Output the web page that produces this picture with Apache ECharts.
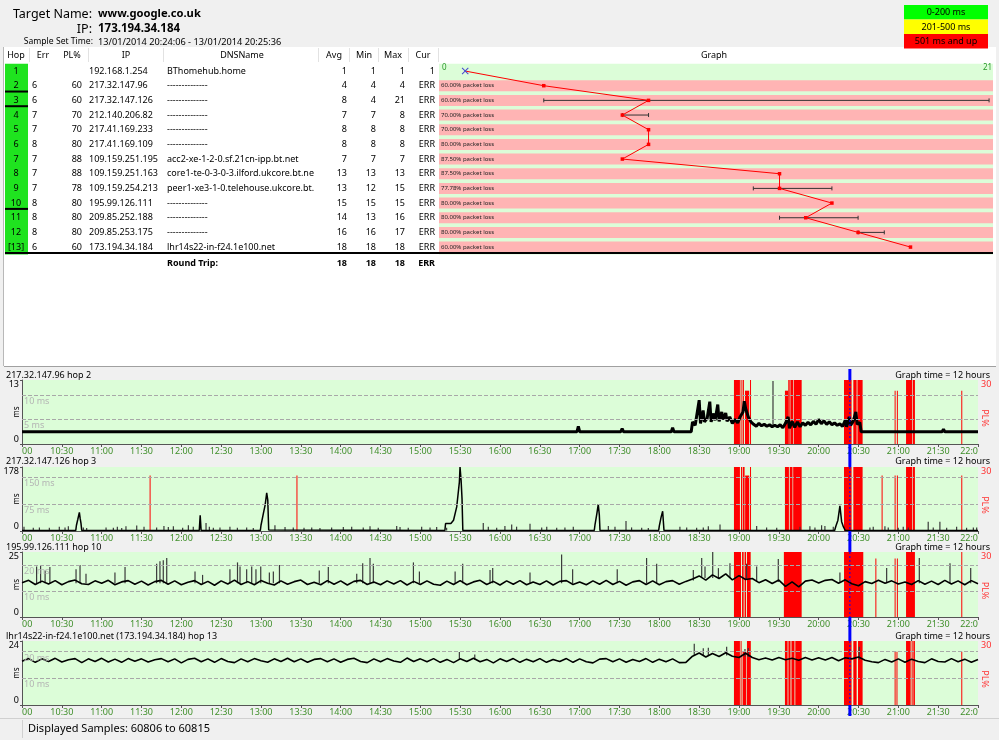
<!DOCTYPE html>
<html><head><meta charset="utf-8">
<script src="https://cdn.jsdelivr.net/npm/echarts@6/dist/echarts.min.js"></script>
<style>html,body{margin:0;padding:0;background:#f0f0f0;}#c{width:999px;height:740px;}</style>
</head><body><div id="c"></div>
<script>
// ================= DATA =================
const targetName = 'www.google.co.uk';
const targetIP = '173.194.34.184';
const sampleSetTime = '13/01/2014 20:24:06 - 13/01/2014 20:25:36';
const displayedSamples = 'Displayed Samples: 60806 to 60815';
const tableHeaders = ['Hop','Err','PL%','IP','DNSName','Avg','Min','Max','Cur','Graph'];
const hopLabels = ['1','2','3','4','5','6','7','8','9','10','11','12','[13]'];
const hopErr = ['','6','6','7','7','8','7','7','7','8','8','8','6'];
const hopPktLoss = [0,60,60,70,70,80,87.5,87.5,77.78,80,80,80,60];
const hopIP = ['192.168.1.254','217.32.147.96','217.32.147.126','212.140.206.82','217.41.169.233','217.41.169.109','109.159.251.195','109.159.251.163','109.159.254.213','195.99.126.111','209.85.252.188','209.85.253.175','173.194.34.184'];
const hopDNS = ['BThomehub.home','--------------','--------------','--------------','--------------','--------------','acc2-xe-1-2-0.sf.21cn-ipp.bt.net','core1-te-0-3-0-3.ilford.ukcore.bt.net','peer1-xe3-1-0.telehouse.ukcore.bt.net','--------------','--------------','--------------','lhr14s22-in-f24.1e100.net'];
const hopAvg = [1,4,8,7,8,8,7,13,13,15,14,16,18];
const hopMin = [1,4,4,7,8,8,7,13,12,15,13,16,18];
const hopMax = [1,4,21,8,8,8,7,13,15,15,16,17,18];
const hopCur = ['1','ERR','ERR','ERR','ERR','ERR','ERR','ERR','ERR','ERR','ERR','ERR','ERR'];
const graphedHops = [2,3,10,13];
const roundTripLabel = 'Round Trip:';
const roundTripVals = ['18','18','18','ERR'];
const graphMax = 21;
const legendLabels = ['0-200 ms','201-500 ms','501 ms and up'];

const timeTickLabels = ['00','10:30','11:00','11:30','12:00','12:30','13:00','13:30','14:00','14:30','15:00','15:30','16:00','16:30','17:00','17:30','18:00','18:30','19:00','19:30','20:00','20:30','21:00','21:30','22:0'];
const chartTitles = ['217.32.147.96 hop 2','217.32.147.126 hop 3','195.99.126.111 hop 10','lhr14s22-in-f24.1e100.net (173.194.34.184) hop 13'];
const graphTimeText = 'Graph time = 12 hours';
const yMaxes = [13,178,25,24];
const refLines = [[10,5],[150,75],[20,10],[20,10]];
const plMax = 30;
const cursorMin = 623.5;   // minutes after 10:00
const sampleStepMin = 5;

// hop 2 latency [minute, ms]
const hop2Latency = [[0,2.5],[418,2.5],[419,3.6],[420,2.5],[451,2.5],[452,3.1],[453,2.5],[477,2.5],[478,2.1],[479,2.5],[489,2.5],[490,3.3],[491,2.5],[504,2.5],
[505,4.5],[507,3.8],[508,5.5],[510,8.9],[511,4.2],[513,6.8],[514,4.5],[516,5.2],[518,8.6],[519,4.5],[521,6.2],[522,4.8],[524,8.0],[525,4.6],[527,6.5],[528,5.0],[530,6.3],[531,4.6],[533,5.5],[535,4.2],[537,5.0],[539,4.3],[541,5.6],[543,6.5],[544,8.7],[545,7.2],[547,5.5],[549,4.5],[551,4.0],[553,3.6],[555,4.2],[557,3.7],[559,4.0],[561,3.6],[563,3.9],[565,3.5],[567,3.8],[569,3.5],[571,3.9],[573,3.3],[575,4.2],[577,5.5],[578,3.2],[580,4.6],[582,3.4],[584,4.5],[586,3.5],[588,4.3],[590,3.8],[592,4.4],[594,3.9],[596,4.6],[598,4.0],[600,5.0],[602,4.1],[604,4.7],[606,4.0],[608,4.5],[610,3.9],[612,4.3],[614,3.8],[616,4.1],[618,3.6],[620,4.8],[621,3.5],[623,5.5],[624,3.8],[626,4.6],[628,6.5],[629,4.0],[631,4.4],[632,2.5],[693,2.5],[694,3.0],[695,2.5],[720,2.5]];
const hop2Spikes = [[565.6,3.8,12.8]];
const hop2Loss = [[536.2,540.7,30],[541.2,541.7,30],[542.7,543.7,30],[544.5,547.7,25],[548.3,548.9,30],[574.6,577.1,25],[577.1,578.2,30],[578.7,580.7,30],[581.2,587.2,30],[619.1,624.8,30],[626.1,628.6,30],[629.2,633.1,30],[657.2,657.9,25],[658.9,659.6,25],[665.8,670.3,30],[670.8,672.5,30],[707.4,708.1,25]];

// hop 3 latency [minute, ms]
const hop3Latency = [[0,1.5],[40.5,1.5],[41,16],[42,32],[42.6,35],[43.2,52],[43.8,35],[44.4,22],[45,1.5],
[133.5,1.5],[134.2,44],[134.9,1.5],
[179.5,1.5],[180,16],[181.8,49],[183.1,72],[184.3,106],[185.1,86],[185.8,3],[186.2,1.5],
[318.5,1.5],[319,21],[323,21],[325,30],[327.4,67],[329.4,136],[329.9,178],[330.7,141],[331.4,90],[332,1.5],
[431,1.5],[431.5,16],[432.8,45],[434,74],[434.8,45],[435.3,1.5],
[479.5,1.5],[480,14],[481.3,38],[482.5,55],[483.5,1.5],
[612,1.5],[613,14],[614.5,30],[616,70],[617.3,26],[618.6,12],[620,1.5],[720,1.5]];
const hop3Spikes = [[1.5,1.5,12],[8.5,1.5,9],[13.1,1.5,10],[20.6,1.5,9],[28.1,1.5,12],[32.4,1.5,10],[34.9,1.5,13],[46.2,1.5,10],[48.7,1.5,8],[63.3,1.5,10],[68.8,1.5,9],[71.8,1.5,12],[75.1,1.5,8],[78.3,1.5,13],[86.4,1.5,15],[91.9,1.5,12],[101.4,1.5,10],[106.9,1.5,14],[110.2,1.5,11],[114,1.5,13],[121,1.5,9],[125.3,1.5,16],[129,1.5,12],[138.6,1.5,22],[141.1,1.5,12],[144.1,1.5,9],[149.1,1.5,10],[156.6,1.5,12],[162.2,1.5,9],[169.2,1.5,10],[174.2,1.5,8],[190.5,1.5,16],[198.1,1.5,11],[204.3,1.5,10],[212.4,1.5,9],[218.2,1.5,10],[224.4,1.5,8],[233.2,1.5,10],[242,1.5,11],[248.3,1.5,12],[257,1.5,10],[262.1,1.5,13],[268.3,1.5,9],[282.2,1.5,14],[284.7,1.5,11],[290.9,1.5,9],[301,1.5,12],[307.3,1.5,10],[312.3,1.5,11],[319.8,1.5,9],[347.4,1.5,22],[351.2,1.5,12],[357.5,1.5,9],
[363.7,1.5,14],[368.8,1.5,18],[372.5,1.5,12],[382.6,1.5,20],[391.4,1.5,10],[395.2,1.5,12],[402.7,1.5,9],[408.9,1.5,10],[415.2,1.5,12],[441.6,1.5,14],[446.6,1.5,12],[454.9,1.5,28],[459.1,1.5,10],[466.7,1.5,9],[471.7,1.5,8],[495.5,1.5,12],[500.6,1.5,10],[508.1,1.5,9],[513.1,1.5,10],[516.9,1.5,13],[525.7,1.5,18],[553.3,1.5,14],[560.8,1.5,10],[568.4,1.5,9],[585.9,1.5,12],[593.4,1.5,13],[597.2,1.5,10],[602.2,1.5,16],[604.7,1.5,14],[611,1.5,12],[638.6,1.5,10],[641.1,1.5,12],[649.9,1.5,13],[652.4,1.5,10],[659.9,1.5,9],[663.7,1.5,12],[667.5,1.5,10],[682.5,1.5,26],[686.3,1.5,10],[691.3,1.5,26],[696.4,1.5,9],[703.9,1.5,12],[711.4,1.5,9],[716.5,1.5,10],[719,1.5,10]];
const hop3Loss = [[96.1,96.8,26],[206.7,207.4,26],[536.2,540.7,30],[541.5,542.5,30],[543,544.2,30],[544.6,547.7,26],[548.3,548.9,30],[574.6,577.6,30],[578.2,580.3,30],[580.8,587.2,30],[619.1,624.8,30],[626.1,633.1,30],[647.4,648.1,26],[657.2,657.9,26],[658.9,659.6,26],[665.8,670.3,30],[670.8,672.5,30],[707.4,708.1,26]];

// hop 10 latency, one value every 5 minutes from 10:00
const hop10Latency = [13.2,14.1,12.5,13.8,12.7,14.0,12.4,13.6,14.2,12.8,12.5,13.9,13.0,14.1,12.4,13.5,14.0,12.6,13.8,12.3,13.6,
14.1,12.6,13.9,12.4,13.4,14.0,12.5,13.7,12.2,13.9,12.7,14.2,12.5,13.6,12.4,14.0,13.0,12.3,13.9,12.6,
13.6,14.2,12.5,13.4,12.4,14.0,12.6,13.9,12.3,13.7,14.1,12.5,13.5,12.4,13.9,12.7,14.0,12.3,13.7,12.5,
13.9,12.6,12.2,13.8,12.5,14.0,12.4,13.5,14.1,12.5,13.7,12.3,13.9,12.6,14.0,12.4,13.5,12.5,13.9,12.3,
13.7,14.0,12.5,13.5,12.4,13.9,12.6,14.1,12.5,13.7,12.2,13.5,14.0,12.5,13.9,12.4,13.6,14.0,12.6,13.7,
14.6,15.8,14.2,16.2,14.8,16.6,14.3,15.9,14.4,14.8,
13.2,14.3,12.9,14.2,11.8,13.5,11.6,13.8,14.2,13.1,
14.1,14.4,13.0,14.3,12.8,12.0,13.6,12.9,14.1,13.0,
13.9,12.7,13.5,12.5,14.0,12.6,13.8,12.5,14.1,12.7,13.9,12.4,14.0,12.8];
const hop10Spikes = [[11,13,19.4],[14,13,19.7],[17.4,13,17.9],[21,13,19.2],[40.7,13,18.4],[43.7,13,20],[48.2,13,16.6],[70,13,17.1],[77.6,13,19.2],[101.4,13,20.5],[103.9,13,21.4],[106.4,13,21.8],[109,13,22.7],[130.3,13,17.5],[136,13,16.2],[156.6,13,18.4],[162.3,13,21],[164.2,13,19.4],[169.2,13,18.4],[173,13,19.4],[176.2,13,18.4],[179.8,13,19.4],[186.3,13,17.1],[189.3,13,17.5],[193.9,13,20],[223.9,13,17.9],[230.7,13,19.2],[252.1,13,16.6],[256.6,13,20.7],[262.1,13,22.7],[264.6,13,20.5],[294.8,13,21],[299.3,13,17.5],[326.2,13,17.5],[331.9,13,20.5],[352.5,13,18.1],[354.5,13,18.8],[382.6,13,17.1],[406.4,13,24],[414.7,13,18.4],[448.3,13,18.4],[470.4,13,22.7],[478,13,20.5],[505.6,14,18.1],[511.9,15,22.7],[514.4,15,19.4],[520.2,15,25],[524.5,15,18.8],[533.2,15,20.7],[545.7,14.5,20.5],[553.3,13.5,19.4],[569.6,13.5,22.3],[616,13.5,17.1],[651.2,13,18.8],[675.8,13,22.7],[698.9,13,20.7],[714.5,13,18.8]];
const hop10Loss = [[536.2,541.5,30],[542.3,543.5,30],[544.2,545.3,30],[546,548.8,30],[573.8,587.2,30],[619.1,633.6,30],[642.7,643.3,27],[657.2,657.9,27],[658.9,659.6,27],[665.8,672.5,30],[707.4,708.1,30]];

// hop 13 latency, one value every 5 minutes from 10:00
const hop13Latency = [16.4,17.4,16.0,17.3,16.3,17.5,16.1,17.0,17.4,15.9,17.3,16.3,17.5,16.1,17.2,16.0,17.4,16.4,17.3,16.1,17.0,
17.4,16.2,17.3,15.8,17.1,17.5,16.2,17.3,16.0,17.4,16.3,15.9,17.3,16.2,17.4,16.6,16.0,17.3,16.3,17.5,
16.2,17.3,16.0,17.1,17.4,16.2,17.3,16.0,17.1,17.5,16.3,15.9,17.3,16.2,17.4,16.5,16.0,17.6,16.3,17.3,
16.2,17.4,16.0,17.1,15.9,17.3,16.3,17.5,16.2,17.1,15.8,17.3,16.3,17.4,16.0,17.2,16.2,17.4,16.0,17.1,
16.3,17.4,16.0,17.3,16.2,15.8,17.2,17.4,16.2,17.3,16.0,17.1,16.3,17.4,16.0,17.2,16.2,17.3,15.9,16.0,
18.3,19.5,18.0,19.3,18.2,19.6,18.3,17.8,19.4,17.8,
17.0,17.6,16.9,17.8,17.0,17.5,16.8,17.8,16.9,17.7,
16.9,17.8,16.6,17.7,17.3,18.0,16.8,16.2,15.9,17.1,
16.1,17.3,16.0,17.2,16.3,15.9,17.3,16.3,16.1,17.4,16.2,17.2,16.0,17.1];
const hop13Spikes = [[329.4,17,19.9],[341,17,18.9],[506.3,18.6,23],[513.1,18.6,21.3],[516.9,18.6,21.5],[530.7,18.6,21.8],[544.5,18.2,21],[547,18,21.4],[630.6,17,21.8]];
const hop13Loss = [[536.2,540.7,30],[541.2,541.9,30],[542.7,545.5,25],[546,548.9,30],[574.6,576.6,30],[577.2,578.8,30],[579.5,581.8,30],[582.4,587.2,30],[619.1,624.8,30],[626.1,628.6,30],[629.6,633.1,30],[657.2,657.9,25],[658.6,659.3,25],[665.8,669.3,30],[670,670.8,30],[671.3,672.5,30],[707.4,708.1,25]];

// ================= LAYOUT / STYLE =================
const F = "'Noto Sans','Open Sans',sans-serif";
const FS = 9;  // table font size
const ROW_TOP = 63.7, ROW_H = 14.67;
const GREEN_BG = '#dcfdd8', PINK = '#ffb4b4';
const colX = {hop:16, err:32, pl:82, ip:89, dns:167, avg:347, min:376, max:405, cur:435};
const headerX = [16,43,72,126,242,334,364,393,423,714];
const sepX = [29,88,163,318,349,378,408,438];
const panels = [{top:380,h:64},{top:467,h:64},{top:552,h:65},{top:641,h:64}];
const titleY = [375,461,547,636];
const legendColors = ['#00ff00','#ffff00','#ff0000'];

const latencyPairs = [
  hop2Latency,
  hop3Latency,
  hop10Latency.map((v,i)=>[i*sampleStepMin, v]),
  hop13Latency.map((v,i)=>[i*sampleStepMin, v])
];
const spikeSets = [hop2Spikes, hop3Spikes, hop10Spikes, hop13Spikes];
const lossSets = [hop2Loss, hop3Loss, hop10Loss, hop13Loss];
const lineWidths = [3, 1.5, 1.6, 1.6];

const chart = echarts.init(document.getElementById('c'), null, {renderer:'canvas'});

const grids = [{left:439, top:ROW_TOP, width:554, height:ROW_H*13, show:true, backgroundColor:GREEN_BG, borderWidth:0, outerBoundsMode:'none', containLabel:false}];
const xAxes = [{gridIndex:0, type:'value', min:0, max:21.15, show:false}];
const yAxes = [{gridIndex:0, type:'category', data:hopLabels, inverse:true, show:false}];
const series = [];

// hop graph: packet-loss bands
series.push({
  type:'bar', xAxisIndex:0, yAxisIndex:0, barWidth:11, silent:true, animation:false,
  itemStyle:{color:PINK},
  data: hopPktLoss.map(p => p > 0 ? 21.15 : null),
  label:{show:true, position:'insideLeft', distance:2, fontSize:6, fontFamily:F, color:'#222',
    formatter: p => hopPktLoss[p.dataIndex].toFixed(2) + '% packet loss'}
});
// hop graph: min-max bars
series.push({
  type:'custom', xAxisIndex:0, yAxisIndex:0, silent:true, animation:false, z:4,
  data: hopAvg.map((v,i)=>[hopMin[i], hopMax[i], i]).filter(d => d[1] > d[0]),
  encode:{x:[0,1], y:2},
  renderItem:(params, api) => {
    const a = api.coord([api.value(0), api.value(2)]);
    const b = api.coord([api.value(1), api.value(2)]);
    const st = {stroke:'#333', lineWidth:1};
    return {type:'group', children:[
      {type:'line', shape:{x1:a[0],y1:a[1],x2:b[0],y2:b[1]}, style:st},
      {type:'line', shape:{x1:a[0],y1:a[1]-2,x2:a[0],y2:a[1]+2}, style:st},
      {type:'line', shape:{x1:b[0],y1:b[1]-2,x2:b[0],y2:b[1]+2}, style:st}
    ]};
  }
});
// hop graph: average line
const xPath = 'path://M0,1L1,0L5,4L9,0L10,1L6,5L10,9L9,10L5,6L1,10L0,9L4,5Z';
series.push({
  type:'line', xAxisIndex:0, yAxisIndex:0, animation:false, silent:true, z:5,
  symbol:'rect', symbolSize:3.5, showAllSymbol:true,
  lineStyle:{color:'#ff0000', width:1}, itemStyle:{color:'#ff0000'},
  data: hopAvg.map((v,i) => i === 0 ? {value:[v,i], symbol:xPath, symbolSize:7, itemStyle:{color:'#4848d0'}} : [v,i])
});

// time charts
panels.forEach((pn, k) => {
  const gi = k+1, yl = 1+2*k, yr = 2+2*k;
  grids.push({left:22, right:21, top:pn.top, height:pn.h, show:true, backgroundColor:GREEN_BG, borderWidth:0, outerBoundsMode:'none', containLabel:false});
  xAxes.push({gridIndex:gi, type:'value', min:0, max:720, interval:30,
    axisLine:{lineStyle:{color:'#555'}}, axisTick:{length:3, lineStyle:{color:'#555'}}, splitLine:{show:false},
    axisLabel:{fontSize:9, fontFamily:F, color:'#3f8f2a', margin:3, alignMinLabel:'left', alignMaxLabel:'right',
      formatter: v => timeTickLabels[Math.round(v/30)]}});
  yAxes.push({gridIndex:gi, type:'value', min:0, max:yMaxes[k], interval:yMaxes[k],
    axisLine:{show:true, lineStyle:{color:'#555'}}, axisTick:{show:true, length:2, lineStyle:{color:'#555'}}, splitLine:{show:false},
    axisLabel:{fontSize:9, fontFamily:F, color:'#000', margin:3, verticalAlignMaxLabel:'top', verticalAlignMinLabel:'bottom'}});
  yAxes.push({gridIndex:gi, type:'value', position:'right', min:0, max:plMax, interval:plMax,
    axisLine:{show:false}, axisTick:{show:false}, splitLine:{show:false},
    axisLabel:{fontSize:9, fontFamily:F, color:'#ff3030', margin:3, showMinLabel:false, verticalAlignMaxLabel:'top'}});
  // packet loss blocks
  series.push({
    type:'custom', xAxisIndex:gi, yAxisIndex:yr, silent:true, animation:false, z:1,
    data: lossSets[k], encode:{x:[0,1], y:2},
    renderItem:(params, api) => {
      const p0 = api.coord([api.value(0), 0]);
      const p1 = api.coord([api.value(1), api.value(2)]);
      return {type:'rect', shape:{x:p0[0], y:p1[1], width:Math.max(1, p1[0]-p0[0]), height:p0[1]-p1[1]}, style:{fill:'#ff0000'}};
    }
  });
  // spikes
  series.push({
    type:'custom', xAxisIndex:gi, yAxisIndex:yl, silent:true, animation:false, z:2,
    data: spikeSets[k], encode:{x:0, y:[1,2]},
    renderItem:(params, api) => {
      const a = api.coord([api.value(0), api.value(1)]);
      const b = api.coord([api.value(0), api.value(2)]);
      return {type:'line', shape:{x1:a[0],y1:a[1],x2:b[0],y2:b[1]}, style:{stroke:'#3a3a3a', lineWidth:1.2}};
    }
  });
  // latency line
  series.push({
    type:'line', xAxisIndex:gi, yAxisIndex:yl, silent:true, animation:false, z:3,
    showSymbol:false, symbol:'none', data: latencyPairs[k],
    lineStyle:{color:'#000', width:lineWidths[k]},
    markLine:{silent:true, symbol:'none', animation:false,
      lineStyle:{color:'#a8a8a8', type:'dashed', width:1},
      label:{position:'insideStartBottom', fontSize:9, fontFamily:F, color:'#b4b4b4', distance:2, formatter: p => p.value + ' ms'},
      data: refLines[k].map(v => ({yAxis:v}))}
  });
});

chart.setOption({
  backgroundColor:'#f0f0f0', animation:false,
  grid:grids, xAxis:xAxes, yAxis:yAxes, series:series
});

// ================= GRAPHIC (text & frames) =================
const g = [];
function T(x, y, text, o, rot) {
  return {type:'text', x:x, y:y, rotation:rot||0, silent:true, z:100,
    style:Object.assign({text:text, fill:'#000', fontSize:FS, fontFamily:F, align:'left', verticalAlign:'middle'}, o||{})};
}
function R(x, y, w, h, fill, z, o) {
  return {type:'rect', silent:true, z:(z==null?-10:z), shape:{x:x,y:y,width:w,height:h}, style:Object.assign({fill:fill}, o||{})};
}
function L(x1, y1, x2, y2, stroke, w, z, dash) {
  return {type:'line', silent:true, z:(z==null?50:z), shape:{x1:x1,y1:y1,x2:x2,y2:y2}, style:{stroke:stroke, lineWidth:w, lineDash:dash||null}};
}
// table area
g.push(R(4, 47, 992, 319, '#ffffff'));
g.push(L(4, 366.5, 996, 366.5, '#a0a0a0', 1, 5));
g.push(L(3.5, 47, 3.5, 366, '#b8b8b8', 1, 5));
// header
g.push(T(92, 14, 'Target Name:', {fontSize:12.5, align:'right'}));
g.push(T(98, 14, targetName, {fontSize:11.2, fontWeight:'bold'}));
g.push(T(92, 29, 'IP:', {fontSize:12.5, align:'right'}));
g.push(T(98, 29, targetIP, {fontSize:11.5, fontWeight:'bold'}));
g.push(T(93, 42, 'Sample Set Time:', {fontSize:8.6, align:'right'}));
g.push(T(98, 42, sampleSetTime, {fontSize:9.2}));
// legend
legendLabels.forEach((lb, i) => {
  g.push(R(904, 5 + i*14.5, 84, 14.5, legendColors[i], 1));
  g.push(T(946, 12.5 + i*14.5, lb, {fontSize:9, align:'center'}));
});
// table header
tableHeaders.forEach((h, i) => g.push(T(headerX[i], 55, h, {align:'center'})));
sepX.forEach(x => g.push(L(x+0.5, 48, x+0.5, 62, '#e2e2e2', 1, 5)));
// hop cells
g.push(R(5, ROW_TOP, 23, ROW_H*13, '#1fe31f', 1));
hopLabels.forEach((h, i) => {
  const y = ROW_TOP + (i+0.5)*ROW_H;
  g.push(T(colX.hop, y, h, {align:'center'}));
  g.push(T(colX.err, y, hopErr[i]));
  g.push(T(colX.pl, y, hopPktLoss[i] > 0 ? String(Math.round(hopPktLoss[i])) : '', {align:'right'}));
  g.push(T(colX.ip, y, hopIP[i]));
  g.push(T(colX.dns, y, hopDNS[i], {width:150, overflow:'truncate', ellipsis:''}));
  g.push(T(colX.avg, y, String(hopAvg[i]), {align:'right'}));
  g.push(T(colX.min, y, String(hopMin[i]), {align:'right'}));
  g.push(T(colX.max, y, String(hopMax[i]), {align:'right'}));
  g.push(T(colX.cur, y, hopCur[i], {align:'right'}));
});
graphedHops.forEach(h => {
  const yb = ROW_TOP + h*ROW_H - 1.5;
  if (h === hopLabels.length) g.push(L(5, yb, 993, yb, '#000', 2, 60));
  else g.push(L(5, yb, 28, yb, '#000', 2, 60));
});
const rtY = ROW_TOP + 13*ROW_H + 9;
g.push(T(colX.dns, rtY, roundTripLabel, {fontWeight:'bold'}));
[colX.avg, colX.min, colX.max, colX.cur].forEach((x, i) => g.push(T(x, rtY, roundTripVals[i], {align:'right', fontWeight:'bold'})));
// graph axis end labels
const p0 = chart.convertToPixel({gridIndex:0}, [0, 0]);
const p21 = chart.convertToPixel({gridIndex:0}, [graphMax, 0]);
g.push(T(p0[0]+3, p0[1]-3, '0', {fontSize:8, fill:'#2a9a2a'}));
g.push(T(p21[0]+3, p21[1]-3, String(graphMax), {fontSize:8, fill:'#2a9a2a', align:'right'}));
// chart titles and axis names
chartTitles.forEach((t, k) => {
  const pn = panels[k];
  g.push(T(6, titleY[k], t, {fontSize:9}));
  g.push(T(990, titleY[k], graphTimeText, {fontSize:9, align:'right'}));
  g.push(T(17, pn.top + pn.h/2, 'ms', {fontSize:8, align:'center'}, Math.PI/2));
  g.push(T(985, pn.top + pn.h/2 + 6, 'PL%', {fontSize:9, align:'center', fill:'#ff3030'}, -Math.PI/2));
});
// cursor
const cx = chart.convertToPixel({xAxisIndex:1}, cursorMin);
let prevBottom = 369;
panels.forEach((pn, k) => {
  g.push(L(cx, prevBottom, cx, pn.top, '#0000ff', 3, 90));
  g.push(L(cx, pn.top, cx, pn.top+pn.h, '#0000ff', 1, 90, [2,2]));
  prevBottom = pn.top + pn.h;
});
g.push(L(cx, prevBottom, cx, 716, '#0000ff', 3, 90));
// status bar
g.push(L(0, 718.5, 999, 718.5, '#d0d0d0', 1, 5));
g.push(L(22.5, 720, 22.5, 738, '#d0d0d0', 1, 5));
g.push(T(28, 729, displayedSamples, {fontSize:11}));

chart.setOption({graphic:{elements:g}});
</script>
</body></html>
